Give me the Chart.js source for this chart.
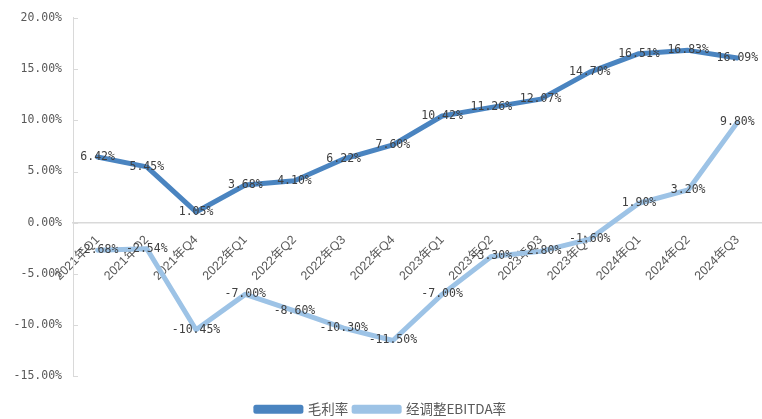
<html>
<head>
<meta charset="utf-8">
<style>
  html, body { margin: 0; padding: 0; background: #fff; }
  #wrap { width: 762px; height: 419px; }
</style>
</head>
<body>
<div id="wrap"><canvas id="myChart" width="762" height="419"></canvas></div>
<script src="https://cdn.jsdelivr.net/npm/chart.js@4.4.1/dist/chart.umd.min.js"></script>
<script>
// quarters (the source skips 2021 Q3)
var quarters = ['2021年Q1','2021年Q2','2021年Q4','2022年Q1','2022年Q2','2022年Q3','2022年Q4',
                '2023年Q1','2023年Q2','2023年Q3','2023年Q4','2024年Q1','2024年Q2','2024年Q3']
var grossMargin = [6.42, 5.45, 1.05, 3.68, 4.10, 6.22, 7.60, 10.42, 11.26, 12.07, 14.70, 16.51, 16.83, 16.09]
var ebitdaMargin = [-2.68, -2.54, -10.45, -7.00, -8.60, -10.30, -11.50, -7.00, -3.30, -2.80, -1.60, 1.90, 3.20, 9.80]
var seriesNames = ['毛利率', '经调整EBITDA率']
var yTicks = [-15, -10, -5, 0, 5, 10, 15, 20]

var numFont = '"DejaVu Sans Mono", monospace'
var darkBlue = '#4a84c0'
var lightBlue = '#9dc3e6'

// labels sit on top of each point, like excel's "center" data labels
var pointLabels = {
  id: 'pointLabels',
  afterDatasetsDraw: function(chart) {
    var ctx = chart.ctx
    ctx.save()
    ctx.font = '11.5px ' + numFont
    ctx.fillStyle = '#404040'
    ctx.textAlign = 'center'
    ctx.textBaseline = 'middle'
    chart.data.datasets.forEach(function(ds, i) {
      chart.getDatasetMeta(i).data.forEach(function(pt, j) {
        ctx.fillText(ds.data[j].toFixed(2) + '%', pt.x, pt.y)
      })
    })
    ctx.restore()
  }
}

// small tick stubs pointing into the plot from the y axis
var innerTicks = {
  id: 'innerTicks',
  afterDraw: function(chart) {
    var y = chart.scales.y
    var ctx = chart.ctx
    ctx.save()
    ctx.strokeStyle = '#d9d9d9'
    ctx.lineWidth = 1
    y.ticks.forEach(function(t, i) {
      var py = Math.round(y.getPixelForTick(i)) + 0.5
      ctx.beginPath()
      ctx.moveTo(y.right, py)
      ctx.lineTo(y.right + 5, py)
      ctx.stroke()
    })
    ctx.restore()
  }
}

var chart = new Chart(document.getElementById('myChart'), {
  type: 'line',
  data: {
    labels: quarters,
    datasets: [
      { label: seriesNames[0], data: grossMargin, borderColor: darkBlue, backgroundColor: darkBlue,
        borderWidth: 5, pointRadius: 0, tension: 0, borderJoinStyle: 'round', borderCapStyle: 'round' },
      { label: seriesNames[1], data: ebitdaMargin, borderColor: lightBlue, backgroundColor: lightBlue,
        borderWidth: 5, pointRadius: 0, tension: 0, borderJoinStyle: 'round', borderCapStyle: 'round' }
    ]
  },
  options: {
    responsive: false,
    animation: false,
    layout: { padding: { top: 16, right: 0, left: 0, bottom: -7 } },
    plugins: {
      legend: {
        position: 'bottom',
        // empty title only used to push the legend row down
        title: { display: true, text: ' ', font: { size: 1 }, padding: { top: 19, bottom: 0 } },
        labels: {
          boxWidth: 45, boxHeight: 4, padding: 6,
          color: '#595959',
          font: { family: '"Noto Sans CJK SC", sans-serif', size: 13.5 }
        }
      },
      tooltip: { enabled: false }
    },
    scales: {
      x: {
        position: { y: 0 },
        offset: true,
        grid: { display: false, drawTicks: false },
        border: { color: '#d9d9d9', width: 1.5 },
        ticks: {
          minRotation: 45, maxRotation: 45, autoSkip: false, padding: 10,
          color: '#595959',
          font: { family: '"Liberation Sans", "Noto Sans CJK SC", sans-serif', size: 12.5 }
        }
      },
      y: {
        min: -15, max: 20,
        afterBuildTicks: function(scale) {
          scale.ticks = yTicks.map(function(v) { return { value: v } })
        },
        afterFit: function(scale) { scale.width = 73 },
        grid: { display: false, drawTicks: false },
        border: { color: '#d9d9d9', width: 1 },
        ticks: {
          padding: 11,
          color: '#595959',
          font: { family: numFont, size: 11.5 },
          callback: function(v) { return v.toFixed(2) + '%' }
        }
      }
    }
  },
  plugins: [pointLabels, innerTicks]
})
</script>
</body>
</html>
